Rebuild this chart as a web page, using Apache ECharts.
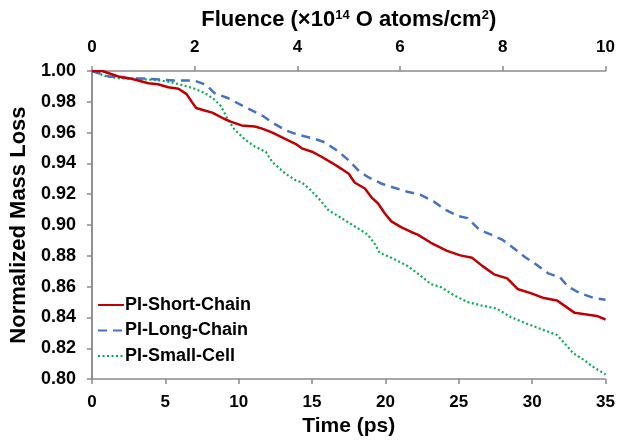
<!DOCTYPE html>
<html>
<head>
<meta charset="utf-8">
<script src="https://cdn.jsdelivr.net/npm/echarts@6/dist/echarts.min.js"></script>
<style>
html,body{margin:0;padding:0;background:#fff;}
#chart{width:618px;height:442px;}
</style>
</head>
<body>
<div id="chart"></div>
<script>
const seriesNames = ['PI-Short-Chain', 'PI-Long-Chain', 'PI-Small-Cell'];

const shortTime = [0, 0.7, 1.8, 2.7, 3.85, 4.5, 5.2, 5.9, 6.45, 6.8, 7.1, 7.8, 8.2, 9.0, 9.5, 10.2, 11.1, 11.6, 12.3, 13.2, 13.9, 14.3, 15.0, 15.7, 16.35, 17.0, 17.5, 17.9, 18.6, 19.05, 19.5, 19.95, 20.4, 21.1, 21.75, 22.2, 23.1, 24.2, 25.1, 25.9, 26.6, 27.4, 28.3, 29.0, 29.9, 30.8, 31.7, 32.0, 32.9, 33.7, 34.4, 35];
const shortVal = [1.0, 1.0, 0.9964, 0.995, 0.992, 0.9914, 0.9895, 0.9885, 0.985, 0.980, 0.976, 0.974, 0.973, 0.969, 0.967, 0.9647, 0.964, 0.9626, 0.960, 0.9558, 0.9526, 0.9498, 0.9476, 0.944, 0.9404, 0.9365, 0.9333, 0.9276, 0.9237, 0.918, 0.914, 0.9077, 0.9024, 0.8985, 0.8955, 0.8938, 0.8885, 0.8832, 0.8803, 0.8788, 0.8735, 0.868, 0.8654, 0.8585, 0.8558, 0.8526, 0.851, 0.849, 0.843, 0.842, 0.841, 0.8387];

const longTime = [0, 1.15, 2.5, 3.85, 5.0, 5.65, 6.55, 6.9, 7.8, 8.35, 9.25, 10.15, 11.0, 11.7, 12.3, 13.2, 14.1, 15.1, 15.9, 16.8, 17.5, 18.15, 18.8, 19.7, 20.6, 21.5, 22.4, 23.3, 24.1, 24.9, 25.6, 26.4, 27.2, 27.95, 28.85, 29.5, 30.3, 31.1, 31.9, 32.45, 33.25, 34.15, 35];
const longVal = [1.0, 0.9964, 0.9953, 0.995, 0.9942, 0.9938, 0.9938, 0.994, 0.991, 0.9857, 0.9825, 0.978, 0.974, 0.9705, 0.9665, 0.9615, 0.9585, 0.9562, 0.9536, 0.9477, 0.942, 0.9355, 0.9312, 0.927, 0.9242, 0.9216, 0.9196, 0.9152, 0.9098, 0.906, 0.9045, 0.897, 0.8938, 0.8906, 0.8842, 0.8793, 0.8742, 0.8686, 0.866, 0.860, 0.8558, 0.8528, 0.8515];

const smallTime = [0, 0.9, 1.8, 2.95, 4.3, 5.2, 6.1, 7.0, 7.7, 8.35, 8.8, 9.25, 9.7, 10.4, 11.0, 11.85, 12.3, 13.2, 13.9, 14.3, 14.8, 15.45, 16.1, 17.0, 17.9, 18.8, 19.3, 19.6, 20.4, 21.5, 22.4, 23.1, 23.8, 24.7, 25.6, 26.5, 27.6, 28.5, 29.6, 30.8, 31.7, 32.2, 32.8, 33.5, 34.1, 35];
const smallVal = [1.0, 0.9968, 0.9953, 0.995, 0.9942, 0.9931, 0.991, 0.9885, 0.9857, 0.9814, 0.9771, 0.9686, 0.9622, 0.9558, 0.9515, 0.9475, 0.9408, 0.9333, 0.929, 0.9276, 0.9237, 0.9173, 0.9098, 0.9045, 0.8992, 0.8938, 0.8874, 0.882, 0.8788, 0.8735, 0.8671, 0.8617, 0.8596, 0.8543, 0.85, 0.8479, 0.8457, 0.8404, 0.8361, 0.8318, 0.8286, 0.8233, 0.8168, 0.8126, 0.8083, 0.803];

const timeTicks = [0, 5, 10, 15, 20, 25, 30, 35];
const fluenceTicks = [0, 2, 4, 6, 8, 10];
const massTicks = [0.80, 0.82, 0.84, 0.86, 0.88, 0.90, 0.92, 0.94, 0.96, 0.98, 1.00];

function pairs(xs, ys) { return xs.map((x, i) => [x, ys[i]]); }

const FONT = '"Liberation Sans", Arial, sans-serif';
const AXIS_COLOR = '#8a8a8a';

const chart = echarts.init(document.getElementById('chart'), null, {renderer: 'canvas', devicePixelRatio: 1});
chart.setOption({
  animation: false,
  backgroundColor: '#ffffff',
  textStyle: {fontFamily: FONT},
  grid: {left: 88, right: 12, top: 71, bottom: 59, containLabel: false},
  legend: {
    orient: 'vertical', left: 92, top: 291,
    itemWidth: 26, itemHeight: 14, itemGap: 7.5,
    itemStyle: {opacity: 0},
    textStyle: {fontFamily: FONT, fontSize: 18, fontWeight: 'bold', color: '#000', lineHeight: 18, padding: [0,0,0,-4]},
    data: seriesNames
  },
  xAxis: [{
    type: 'value', position: 'bottom', min: timeTicks[0], max: timeTicks[timeTicks.length-1], interval: 5,
    name: 'Time (ps)', nameLocation: 'middle', nameGap: 36,
    nameTextStyle: {fontFamily: FONT, fontSize: 21, fontWeight: 'bold', color: '#000'},
    axisLine: {show: true, lineStyle: {color: AXIS_COLOR, width: 1.5}},
    axisTick: {show: true, inside: false, length: 5, lineStyle: {color: AXIS_COLOR, width: 1.5}},
    axisLabel: {fontFamily: FONT, fontSize: 17, fontWeight: 'bold', color: '#000', margin: 15},
    splitLine: {show: false}
  }, {
    type: 'value', position: 'top', min: fluenceTicks[0], max: fluenceTicks[fluenceTicks.length-1], interval: 2,
    name: 'Fluence (×10{sup|14} O atoms/cm{sup|2})', nameLocation: 'middle', nameGap: 40,
    nameTextStyle: {fontFamily: FONT, fontSize: 22, fontWeight: 'bold', color: '#000',
      rich: {sup: {fontFamily: FONT, fontSize: 13, fontWeight: 'bold', color: '#000', verticalAlign: 'top', padding: [0, 0, 9, 0]}}},
    axisLine: {show: true, lineStyle: {color: AXIS_COLOR, width: 1.5}},
    axisTick: {show: true, inside: false, length: 5, lineStyle: {color: AXIS_COLOR, width: 1.5}},
    axisLabel: {fontFamily: FONT, fontSize: 17, fontWeight: 'bold', color: '#000', margin: 15},
    splitLine: {show: false}
  }],
  yAxis: [{
    type: 'value', position: 'left', min: 0.8, max: 1.0, interval: 0.02,
    name: 'Normalized Mass Loss', nameLocation: 'middle', nameGap: 53, nameRotate: 90,
    nameTextStyle: {fontFamily: FONT, fontSize: 22, fontWeight: 'bold', color: '#000'},
    axisLine: {show: true, lineStyle: {color: AXIS_COLOR, width: 1.5}},
    axisTick: {show: true, inside: false, length: 5, lineStyle: {color: AXIS_COLOR, width: 1.5}},
    axisLabel: {fontFamily: FONT, fontSize: 18, fontWeight: 'bold', color: '#000', margin: 16,
      formatter: v => v.toFixed(2)},
    splitLine: {show: false}
  }, {
    type: 'value', position: 'right', min: 0.8, max: 1.0, interval: 0.02,
    axisLine: {show: true, lineStyle: {color: AXIS_COLOR, width: 1.5}},
    axisTick: {show: false}, axisLabel: {show: false}, splitLine: {show: false}
  }],
  series: [{
    name: seriesNames[0], type: 'line', xAxisIndex: 0, yAxisIndex: 0,
    data: pairs(shortTime, shortVal), symbol: 'none', smooth: false,
    lineStyle: {color: '#c00000', width: 2.5, type: 'solid'}, itemStyle: {color: '#c00000'}, z: 3
  }, {
    name: seriesNames[1], type: 'line', xAxisIndex: 0, yAxisIndex: 0,
    data: pairs(longTime, longVal), symbol: 'none', smooth: false,
    lineStyle: {color: '#4472c4', width: 2.5, type: [9, 6]}, itemStyle: {color: '#4472c4'}, z: 2
  }, {
    name: seriesNames[2], type: 'line', xAxisIndex: 0, yAxisIndex: 0,
    data: pairs(smallTime, smallVal), symbol: 'none', smooth: false,
    lineStyle: {color: '#00b050', width: 2.2, type: [2, 2.5]}, itemStyle: {color: '#00b050'}, z: 1
  }]
});
</script>
</body>
</html>
